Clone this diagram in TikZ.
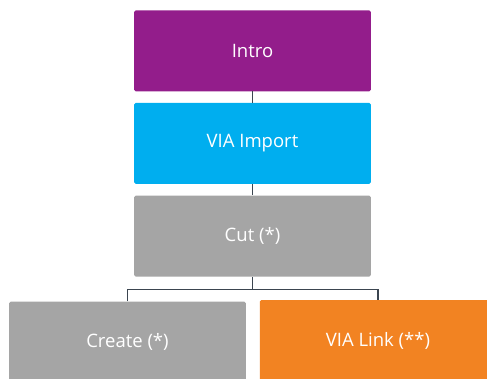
\documentclass[tikz,border=0pt]{standalone}
\usepackage{fontspec}
\setmainfont{Open Sans}
\usetikzlibrary{positioning}

\definecolor{introPurple}{HTML}{931D8B}
\definecolor{importBlue}{HTML}{00AEEF}
\definecolor{stepGray}{HTML}{A5A5A5}
\definecolor{linkOrange}{HTML}{F28322}
\definecolor{wireGray}{HTML}{3B4550}

\tikzset{
    box/.style={rectangle, rounded corners=1.5pt, minimum width=236.5pt,
        minimum height=81pt, inner sep=0pt, text=white,
        font=\fontsize{18.5}{22}\selectfont},
    wire/.style={draw=wireGray, line width=1.6pt}
}

\begin{document}
\begin{tikzpicture}[node distance=11.3pt]

        % Frame
        \useasboundingbox (-252.5pt,50.8pt) rectangle (234.5pt,-328.2pt);

        % Chain of steps
        \node[box, fill=introPurple] (intro) at (0,0) {Intro};
        \node[box, fill=importBlue, below=of intro] (import) {VIA Import};
        \node[box, fill=stepGray, below=of import] (cut) {Cut (*)};

        % Branches
        \node[box, fill=stepGray, below=24.5pt of cut, xshift=-125pt] (create) {Create (*)};
        \node[box, fill=linkOrange, below=23pt of cut, xshift=125.5pt] (link) {VIA Link (**)};

        % Connectors
        \draw[wire] (intro) -- (import);
        \draw[wire] (import) -- (cut);
        \draw[wire] (cut.south) -- ++(0,-12.7pt) coordinate (fork);
        \draw[wire] (create.north) |- (fork) -| (link.north);

    \end{tikzpicture}
\end{document}
